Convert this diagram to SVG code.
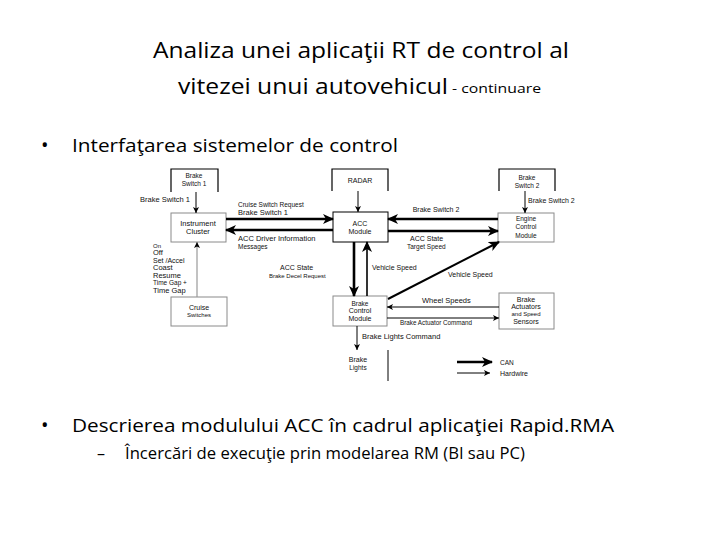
<svg xmlns="http://www.w3.org/2000/svg" width="720" height="540" viewBox="0 0 720 540">
<defs>
<style>
.t{font-family:"Open Sans","Liberation Sans",sans-serif;fill:#000}
.d{font-family:"Liberation Sans",Arial,sans-serif;fill:#111}
.c{text-anchor:middle}
.box{fill:#fff;stroke:#8a8a8a;stroke-width:1}
.bk{fill:#fff;stroke:#000;stroke-width:1}
.open{fill:none;stroke:#000;stroke-width:1.2}
.can{stroke:#000;stroke-width:2.6;fill:none}
.hw{stroke:#000;stroke-width:1;fill:none}
.hwg{stroke:#999;stroke-width:1.2;fill:none}
</style>
<marker id="mc" markerUnits="userSpaceOnUse" markerWidth="11" markerHeight="10" refX="10" refY="5" orient="auto"><path d="M0,0 L11,5 L0,10 L3,5 z" fill="#000"/></marker>
<marker id="mh" markerUnits="userSpaceOnUse" markerWidth="7" markerHeight="7" refX="6" refY="3" orient="auto"><path d="M0,0 L6,3 L0,6 L1.5,3 z" fill="#000"/></marker>
</defs>
<rect width="720" height="540" fill="#fff"/>

<g id="title">
<text class="t c" x="361" y="58" font-size="22" textLength="416" lengthAdjust="spacingAndGlyphs">Analiza unei aplicaţii RT de control al</text>
<text class="t" x="178" y="94" font-size="22" textLength="270" lengthAdjust="spacingAndGlyphs">vitezei unui autovehicul</text>
<text class="t" x="452" y="93" font-size="12" textLength="89" lengthAdjust="spacingAndGlyphs">- continuare</text>
</g>
<g id="bullet1">
<text class="t" x="41" y="152" font-size="20">•</text>
<text class="t" x="72" y="152" font-size="19" textLength="326" lengthAdjust="spacingAndGlyphs">Interfaţarea sistemelor de control</text>
</g>
<g id="bullet2">
<text class="t" x="41" y="432" font-size="20">•</text>
<text class="t" x="72" y="432" font-size="19" textLength="542" lengthAdjust="spacingAndGlyphs">Descrierea modulului ACC în cadrul aplicaţiei Rapid.RMA</text>
<text class="t" x="97" y="459" font-size="16">–</text>
<text class="t" x="125" y="459" font-size="16" textLength="400" lengthAdjust="spacingAndGlyphs">Încercări de execuţie prin modelarea RM (BI sau PC)</text>
</g>

<g id="brake-switch-1">
<path class="open" d="M171,192 V169 H218 V192"/>
<text class="d c" x="194" y="178" font-size="6.5">Brake</text>
<text class="d c" x="194" y="186" font-size="6.5">Switch 1</text>
</g>
<g id="radar">
<path class="open" d="M332,191 V169 H388 V191"/>
<text class="d c" x="360" y="183" font-size="7">RADAR</text>
</g>
<g id="brake-switch-2">
<path class="open" d="M499,191 V169 H555 V191"/>
<text class="d c" x="527" y="180" font-size="6.5">Brake</text>
<text class="d c" x="527" y="188" font-size="6.5">Switch 2</text>
</g>
<g id="instrument-cluster">
<rect class="box" x="171" y="213" width="55" height="29"/>
<text class="d c" x="198" y="226" font-size="7.5">Instrument</text>
<text class="d c" x="198" y="234" font-size="7.5">Cluster</text>
</g>
<g id="acc-module">
<rect class="bk" x="333" y="212" width="55" height="30"/>
<text class="d c" x="360" y="226" font-size="7">ACC</text>
<text class="d c" x="360" y="234" font-size="7">Module</text>
</g>
<g id="engine-control-module">
<rect class="box" x="498" y="213" width="56" height="29"/>
<text class="d c" x="526" y="221" font-size="6.5">Engine</text>
<text class="d c" x="526" y="229" font-size="6.5">Control</text>
<text class="d c" x="526" y="238" font-size="6.5">Module</text>
</g>
<g id="cruise-switches">
<rect class="box" x="171" y="297" width="56" height="29"/>
<text class="d c" x="199" y="310" font-size="7">Cruise</text>
<text class="d c" x="199" y="317" font-size="6">Switches</text>
</g>
<g id="brake-control-module">
<rect class="box" x="333" y="296" width="54" height="30"/>
<text class="d c" x="360" y="306" font-size="6.5">Brake</text>
<text class="d c" x="360" y="313" font-size="7">Control</text>
<text class="d c" x="360" y="321" font-size="7">Module</text>
</g>
<g id="brake-actuators">
<rect class="box" x="499" y="293" width="55" height="36"/>
<text class="d c" x="526" y="302" font-size="7">Brake</text>
<text class="d c" x="526" y="309" font-size="7">Actuators</text>
<text class="d c" x="526" y="316" font-size="6">and Speed</text>
<text class="d c" x="526" y="324" font-size="7">Sensors</text>
</g>
<g id="brake-lights">
<text class="d c" x="358" y="362" font-size="7">Brake</text>
<text class="d c" x="358" y="370" font-size="6.5">Lights</text>
</g>

<g id="connectors">
<line class="hw" x1="196" y1="192" x2="196" y2="213" marker-end="url(#mh)"/>
<line class="can" x1="226" y1="219" x2="333" y2="219" marker-end="url(#mc)"/>
<line class="can" x1="333" y1="230" x2="226" y2="230" marker-end="url(#mc)"/>
<line class="hw" x1="358" y1="191" x2="358" y2="212" marker-end="url(#mh)"/>
<line class="can" x1="498" y1="219" x2="388" y2="219" marker-end="url(#mc)"/>
<line class="can" x1="388" y1="231" x2="498" y2="231" marker-end="url(#mc)"/>
<line class="hw" x1="525" y1="191" x2="525" y2="213" marker-end="url(#mh)"/>
<line class="can" x1="354" y1="242" x2="354" y2="296" marker-end="url(#mc)"/>
<line class="hw" style="stroke-width:1.6" x1="367" y1="296" x2="367" y2="242" marker-end="url(#mc)"/>
<line class="can" style="stroke-width:2" x1="388" y1="299" x2="499" y2="242" marker-end="url(#mc)"/>
<line class="hw" x1="499" y1="307" x2="387" y2="307" marker-end="url(#mh)"/>
<line class="hw" x1="387" y1="318" x2="499" y2="318" marker-end="url(#mh)"/>
<line class="hw" x1="357" y1="326" x2="357" y2="350" marker-end="url(#mh)"/>
<line class="hwg" x1="197" y1="297" x2="197" y2="242" marker-end="url(#mh)"/>
<line class="hw" x1="388" y1="350" x2="388" y2="381"/>
</g>

<g id="labels">
<text class="d" x="140" y="202" font-size="7.5">Brake Switch 1</text>
<text class="d" x="238" y="207" font-size="6.5">Cruise Switch Request</text>
<text class="d" x="238" y="215" font-size="7.5">Brake Switch 1</text>
<text class="d" x="238" y="241" font-size="7.5">ACC Driver Information</text>
<text class="d" x="238" y="249" font-size="6.5">Messages</text>
<text class="d c" x="436" y="212" font-size="7">Brake Switch 2</text>
<text class="d" x="410" y="241" font-size="7">ACC State</text>
<text class="d" x="407" y="249" font-size="6.5">Target Speed</text>
<text class="d" x="528" y="203" font-size="7">Brake Switch 2</text>
<text class="d" x="280" y="270" font-size="7">ACC State</text>
<text class="d" x="269" y="278" font-size="6">Brake Decel Request</text>
<text class="d" x="372" y="270" font-size="7">Vehicle Speed</text>
<text class="d" x="448" y="277" font-size="7">Vehicle Speed</text>
<text class="d" x="422" y="303" font-size="7.5">Wheel Speeds</text>
<text class="d" x="400" y="325" font-size="6.3">Brake Actuator Command</text>
<text class="d" x="362" y="339" font-size="7.5">Brake Lights Command</text>
<text class="d" x="153" y="248" font-size="6">On</text>
<text class="d" x="153" y="255" font-size="7.5">Off</text>
<text class="d" x="153" y="263" font-size="7">Set /Accel</text>
<text class="d" x="153" y="270" font-size="7.5">Coast</text>
<text class="d" x="153" y="278" font-size="7.5">Resume</text>
<text class="d" x="153" y="285" font-size="6.5">Time Gap +</text>
<text class="d" x="153" y="293" font-size="7.5">Time Gap</text>
</g>

<g id="legend">
<line class="can" x1="457" y1="362" x2="492" y2="362" marker-end="url(#mc)"/>
<text class="d" x="500" y="365" font-size="6.5">CAN</text>
<line class="hw" x1="457" y1="373" x2="490" y2="373" marker-end="url(#mh)"/>
<text class="d" x="500" y="376" font-size="7">Hardwire</text>
</g>
</svg>
